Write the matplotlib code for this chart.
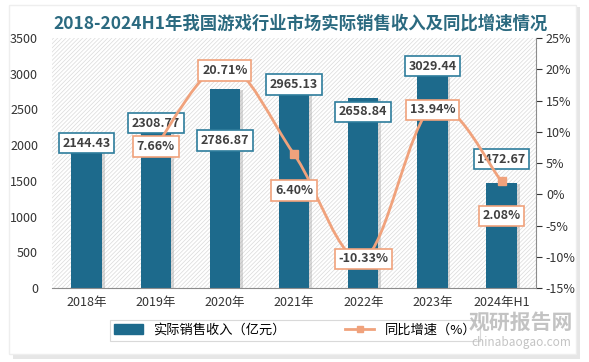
import matplotlib
matplotlib.use("Agg")
import matplotlib.pyplot as plt
from matplotlib.path import Path
from matplotlib.patches import PathPatch, Rectangle, FancyBboxPatch
from matplotlib.lines import Line2D
import matplotlib.patheffects as pe
import numpy as np

plt.rcParams['font.family'] = ['Noto Sans CJK SC', 'DejaVu Sans']
plt.rcParams['hatch.linewidth'] = 0.5

categories = ["2018年", "2019年", "2020年", "2021年", "2022年", "2023年", "2024年H1"]
revenue = [2144.43, 2308.77, 2786.87, 2965.13, 2658.84, 3029.44, 1472.67]
growth = [None, 7.66, 20.71, 6.40, -10.33, 13.94, 2.08]

bar_color = "#1d6a8c"
line_color = "#f0a27c"
title_color = "#2b6a80"

fig = plt.figure(figsize=(5.89, 3.62), dpi=100)
fig.patch.set_facecolor("white")

# panel with soft shadow
shadow = FancyBboxPatch((0.022, 0.008), 0.963, 0.972, boxstyle="square,pad=0",
                        transform=fig.transFigure, facecolor="#e6e6e6", edgecolor="none", zorder=-3)
panel = FancyBboxPatch((0.015, 0.022), 0.963, 0.965, boxstyle="square,pad=0",
                       transform=fig.transFigure, facecolor="white", edgecolor="#eeeeee", zorder=-2)
fig.patches.extend([shadow, panel])

ax = fig.add_axes([0.0883, 0.2044, 0.822, 0.6906])
ax.set_facecolor("none")
ax.add_patch(Rectangle((0, 0), 1, 1, transform=ax.transAxes, facecolor="white",
                       edgecolor="#dadada", hatch="////////", linewidth=0, zorder=0))

x = np.arange(len(categories))
bars = ax.bar(x, revenue, width=0.44, color=bar_color, zorder=2)
for b in bars:
    b.set_path_effects([pe.SimplePatchShadow(offset=(2, -1), shadow_rgbFace="#a0a0a0", alpha=0.4), pe.Normal()])

ax.set_xlim(-0.5, len(categories) - 0.5)
ax.set_ylim(0, 3500)
ax.set_yticks(np.arange(0, 3501, 500))
ax.set_xticks(x)
ax.set_xticklabels(categories)
ax.tick_params(axis="y", length=0, labelsize=9, colors="#333333", pad=10)
ax.tick_params(axis="x", length=0, labelsize=9, colors="#333333", pad=6)
for s in ["left", "top", "right"]:
    ax.spines[s].set_visible(False)
ax.spines["bottom"].set_color("#8c8c8c")

ax2 = ax.twinx()
ax2.set_ylim(-15, 25)
ax2.set_yticks(np.arange(-15, 26, 5))
ax2.set_yticklabels([f"{v}%" for v in range(-15, 26, 5)])
ax2.tick_params(axis="y", length=4, labelsize=9, colors="#333333", pad=3)
for s in ["left", "top", "bottom"]:
    ax2.spines[s].set_visible(False)
ax2.spines["right"].set_color("#8c8c8c")

# smoothed growth line (bezier through the data points)
gx = [i for i, g in enumerate(growth) if g is not None]
gy = [g for g in growth if g is not None]
pts = np.column_stack([gx, gy]).astype(float)
verts = [tuple(pts[0])]
codes = [Path.MOVETO]
n = len(pts)
for i in range(n - 1):
    p0 = pts[max(i - 1, 0)]
    p1 = pts[i]
    p2 = pts[i + 1]
    p3 = pts[min(i + 2, n - 1)]
    c1 = p1 + (p2 - p0) / 6.0
    c2 = p2 - (p3 - p1) / 6.0
    verts += [tuple(c1), tuple(c2), tuple(p2)]
    codes += [Path.CURVE4] * 3
ax2.add_patch(PathPatch(Path(verts, codes), facecolor="none", edgecolor=line_color, lw=2, zorder=3))
ax2.plot(gx, gy, linestyle="none", marker="s", markersize=6, color=line_color, zorder=4)

# data labels
bar_offsets = [(0, -6), (0, 0), (0, -37), (0, -6), (0, -10), (0, 4), (0, 17)]
for xi, v, off in zip(x, revenue, bar_offsets):
    ax.annotate(f"{v:.2f}", (xi, v), xytext=off, textcoords="offset points",
                ha="center", va="center", fontsize=9, fontweight="bold", color="#404040",
                bbox=dict(boxstyle="square,pad=0.3", fc="white", ec="#2e7d9c", lw=1.2), zorder=6)

line_offsets = [(0, 0), (0, -4), (0, -26), (0, 0), (0, -2), (0, -25)]
for xi, g, off in zip(gx, gy, line_offsets):
    ax2.annotate(f"{g:.2f}%", (xi, g), xytext=off, textcoords="offset points",
                 ha="center", va="center", fontsize=9, fontweight="bold", color="#404040",
                 bbox=dict(boxstyle="square,pad=0.3", fc="white", ec=line_color, lw=1.2), zorder=7)

fig.text(0.51, 0.935, "2018-2024H1年我国游戏行业市场实际销售收入及同比增速情况",
         ha="center", va="center", fontsize=12.5, fontweight="bold", color=title_color)

handles = [Rectangle((0, 0), 1, 1, color=bar_color),
           Line2D([0], [0], color=line_color, lw=2, marker="s", markersize=5)]
leg = fig.legend(handles, ["实际销售收入（亿元）", "同比增速（%）"], loc="center",
                 bbox_to_anchor=(0.501, 0.088), ncol=2, frameon=True, fontsize=9.5,
                 fancybox=False, edgecolor="#d0d0d0", columnspacing=4.5, handlelength=2.2,
                 borderpad=0.3)
leg.get_frame().set_linewidth(0.8)

# watermark
fig.text(0.885, 0.110, "观研报告网", ha="center", va="center", fontsize=15, fontweight="bold",
         color="#b5b5b5", alpha=0.8, zorder=10)
fig.text(0.885, 0.055, "chinabaogao.com", ha="center", va="center", fontsize=8.5,
         color="#b5b5b5", alpha=0.8, zorder=10)

fig.savefig("out.png", dpi=100)
